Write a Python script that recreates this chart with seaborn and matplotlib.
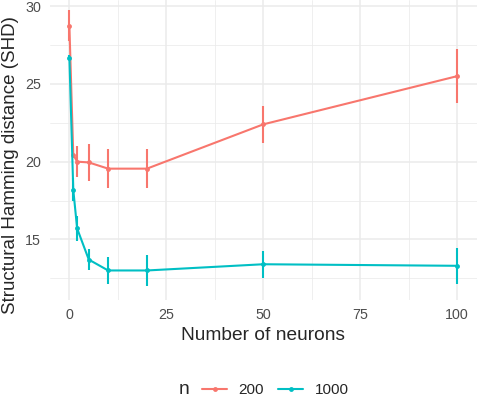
import pandas as pd
import matplotlib
matplotlib.use("Agg")
import matplotlib.pyplot as plt
import seaborn as sns
from matplotlib.lines import Line2D

### values
neurons = [0, 1, 2, 5, 10, 20, 50, 100]
shd_200 = [28.75, 20.45, 20.0, 19.95, 19.55, 19.55, 22.4, 25.5]
err_200 = [1.0, 0.0, 1.0, 1.2, 1.25, 1.25, 1.2, 1.75]
shd_1000 = [26.7, 18.2, 15.7, 13.7, 13.0, 13.0, 13.4, 13.3]
err_1000 = [0.15, 0.75, 0.8, 0.7, 0.85, 1.0, 0.86, 1.16]
groups = ["200", "1000"]
colors = {"200": "#F8766D", "1000": "#00BFC4"}

df = pd.concat([
    pd.DataFrame({"neurons": neurons, "shd": shd_200, "err": err_200, "n": "200"}),
    pd.DataFrame({"neurons": neurons, "shd": shd_1000, "err": err_1000, "n": "1000"}),
], ignore_index=True)

sns.set_theme(style="whitegrid")
plt.rcParams["font.family"] = ["Liberation Sans", "DejaVu Sans"]

fig = plt.figure(figsize=(4.78, 3.98), dpi=100)
ax = fig.add_axes([50 / 478, 1 - 300 / 398, 426.5 / 478, 300 / 398])

sns.lineplot(data=df, x="neurons", y="shd", hue="n", hue_order=groups,
             palette=colors, marker="o", markersize=3.5, markeredgewidth=0,
             linewidth=1.5, ax=ax, legend=False)
for g in groups:
    sub = df[df["n"] == g]
    ax.vlines(sub["neurons"], sub["shd"] - sub["err"], sub["shd"] + sub["err"],
              colors=colors[g], linewidth=1.5)

### ggplot theme_minimal look
ax.set_xlim(-5, 105)
ax.set_ylim(11.1, 30.4)
ax.set_xticks([0, 25, 50, 75, 100])
ax.set_yticks([15, 20, 25, 30])
ax.set_xticks([12.5, 37.5, 62.5, 87.5], minor=True)
ax.set_yticks([12.5, 17.5, 22.5, 27.5], minor=True)
ax.grid(which="major", color="#EBEBEB", linewidth=1.1)
ax.grid(which="minor", color="#EBEBEB", linewidth=0.55)
ax.set_facecolor("white")
for s in ax.spines.values():
    s.set_visible(False)
ax.tick_params(which="both", length=0, labelsize=10.3, labelcolor="#4D4D4D")
ax.tick_params(axis="x", pad=6)
ax.tick_params(axis="y", pad=6.5)
ax.set_xlabel("Number of neurons", fontsize=13.8, va="center")
ax.set_ylabel("Structural Hamming distance (SHD)", fontsize=13.5, va="center")
ax.xaxis.set_label_coords(0.5, (300 - 336) / 300)
ax.yaxis.set_label_coords((11 - 50) / 426.5, (300 - 165) / 300)

handles = [Line2D([], [], color=colors[g], marker="o", markersize=3.5,
                  markeredgewidth=0, linewidth=1.5) for g in groups]
fig.legend(handles, groups, loc="center left", bbox_to_anchor=(202 / 478, 8 / 398),
           ncol=2, frameon=False, fontsize=11, handlelength=1.65, columnspacing=0.9,
           handletextpad=0.75, borderpad=0, borderaxespad=0)
fig.text(179 / 478, 8 / 398, "n", fontsize=13.8, ha="left", va="center")

fig.savefig("out.png", dpi=100)
